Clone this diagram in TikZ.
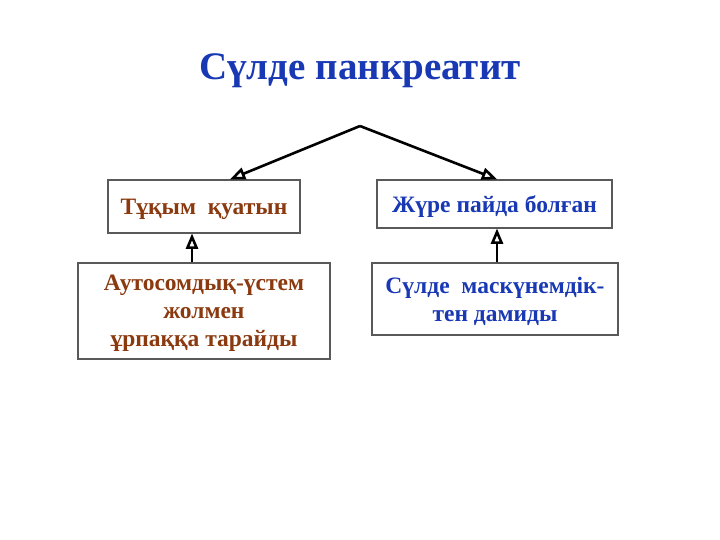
\documentclass[tikz,border=0pt]{standalone}
\usepackage{fontspec}
\setmainfont{Liberation Serif}
\usetikzlibrary{arrows}
\usetikzlibrary{positioning, calc}
\definecolor{rust}{RGB}{139,58,16}
\definecolor{deepblue}{RGB}{24,56,180}

\begin{document}
\begin{tikzpicture}[x=1pt, y=-1pt,
    box/.style={draw=black!65, line width=1.4pt, fill=white, align=center, inner sep=0pt,
      text depth=0pt, font=\bfseries\fontsize{23.5}{28}\selectfont},
    link/.style={black, line width=2.6pt, >=open triangle 45}]
      \useasboundingbox (0, 0) rectangle (720, 540);

      \node[font=\bfseries\fontsize{39}{44}\selectfont, text=deepblue] (title) at (360, 71) {Сүлде панкреатит};

      \node[box, text=rust, minimum width=192pt, minimum height=53pt] (tk) at (204, 206.5) {Тұқым\ \ қуатын};
      \node[box, text=deepblue, minimum width=235pt, minimum height=48pt] (jp) at (494.5, 204) {Жүре пайда болған};
      \node[box, text=rust, minimum width=252pt, minimum height=96pt] (au) at (204, 311) {Аутосомдық-үстем\\жолмен\\ұрпаққа тарайды};
      \node[box, text=deepblue, minimum width=246pt, minimum height=72pt] (sm) at (495, 299) {Сүлде\ \ маскүнемдік-\\тен дамиды};

      \coordinate (apex) at (360, 126);

      \draw[link, ->] (apex) -- ([xshift=26pt]tk.north);
      \draw[link, ->] (apex) -- ([xshift=2.5pt]jp.north);
      \draw[link, ->] ([xshift=-12pt]au.north) -- ([xshift=-12pt]tk.south);
      \draw[link, ->] ([xshift=2pt]sm.north) -- ([xshift=2.5pt]jp.south);
    \end{tikzpicture}
\end{document}
